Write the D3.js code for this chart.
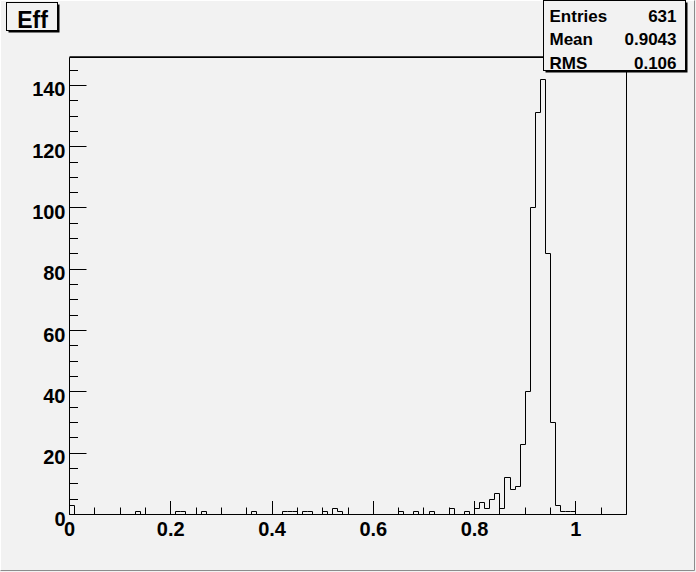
<!DOCTYPE html>
<html>
<head>
<meta charset="utf-8">
<script src="https://cdn.jsdelivr.net/npm/d3@7"></script>
<style>
  body { margin: 0; background: #f2f2f2; }
  svg text { font-family: "Liberation Sans", Arial, Helvetica, sans-serif; font-weight: bold; fill: #000; }
</style>
</head>
<body>
<div id="chart"></div>
<script>
// histogram "Eff": 110 bins from 0 to 1.1
var xLow = 0, xHigh = 1.1, nBins = 110;

var counts = [
  3, 0, 0, 0, 0, 0, 0, 0, 0, 0,
  0, 0, 0, 1, 0, 0, 0, 0, 0, 0,
  0, 1, 1, 0, 0, 0, 1, 0, 0, 0,
  0, 0, 0, 0, 0, 0, 1, 0, 0, 0,
  0, 0, 1, 1, 1, 0, 1, 1, 0, 0,
  1, 0, 2, 1, 0, 0, 0, 0, 0, 0,
  0, 0, 0, 0, 0, 1, 0, 0, 1, 0,
  0, 1, 0, 0, 0, 2, 0, 0, 1, 0,
  2, 4, 2, 5, 7, 2, 12, 8, 9, 23,
  40, 100, 131, 142, 85, 30, 3, 1, 1, 1,
  0, 0, 0, 0, 0, 0, 0, 0, 0, 0
];

var xTickLabels = ["0", "0.2", "0.4", "0.6", "0.8", "1"];
var yTickLabels = ["0", "20", "40", "60", "80", "100", "120", "140"];

var statNames = ["Entries", "Mean", "RMS"];
var statValues = ["631", "0.9043", "0.106"];
var title = "Eff";

var width = 696, height = 572;
var frame = { left: 69.5, right: 626.5, top: 57.5, bottom: 514.5 };

var svg = d3.select("#chart").append("svg")
    .attr("width", width)
    .attr("height", height);

svg.append("rect")
    .attr("width", width).attr("height", height)
    .attr("fill", "#f2f2f2");

// canvas bevel
svg.append("path")
    .attr("d", "M0.5," + (height - 1.5) + "V0.5H" + (width - 1.5))
    .attr("fill", "none").attr("stroke", "#ffffff");
svg.append("path")
    .attr("d", "M0.5," + (height - 1.5) + "H" + (width - 1.5) + "V0.5")
    .attr("fill", "none").attr("stroke", "#8c8c8c");

var yMax = d3.max(counts) * 1.05;

var x = d3.scaleLinear().domain([xLow, xHigh]).range([frame.left, frame.right]);
var y = d3.scaleLinear().domain([0, yMax]).range([frame.bottom, frame.top]);

var binW = (xHigh - xLow) / nBins;

// histogram outline as a step path
var pts = [[x(xLow), y(0)]];
counts.forEach(function(c, i) {
  var x0 = x(xLow + i * binW), x1 = x(xLow + (i + 1) * binW);
  pts.push([x0, y(c)]);
  pts.push([x1, y(c)]);
});
pts.push([x(xHigh), y(0)]);

svg.append("path")
    .attr("d", d3.line()(pts.map(function(p) { return [Math.round(p[0] - 0.5) + 0.5, Math.round(p[1] - 0.5) + 0.5]; })))
    .attr("fill", "none")
    .attr("stroke", "#000")
    .attr("stroke-width", 1);

// frame
svg.append("path")
    .attr("d", "M" + frame.left + "," + frame.bottom + "V" + frame.top + "H" + frame.right + "V" + frame.bottom + "Z")
    .attr("fill", "none").attr("stroke", "#000").attr("stroke-width", 1);
svg.append("line")
    .attr("x1", frame.left).attr("x2", frame.right)
    .attr("y1", frame.top - 0.5).attr("y2", frame.top - 0.5)
    .attr("stroke", "#000").attr("stroke-width", 1.5);

// y axis: ticks point inward
var yMajor = yTickLabels.map(Number);
var yAxis = d3.axisRight(y)
    .tickValues(d3.range(0, yMax, 5))
    .tickSize(0)
    .tickFormat("");
var yg = svg.append("g").attr("transform", "translate(" + frame.left + ",0)");
yg.call(yAxis);
yg.select(".domain").remove();
yg.selectAll(".tick line")
    .attr("x2", function(d) { return yMajor.indexOf(d) >= 0 ? 17 : 8.5; })
    .attr("stroke", "#000");
yg.selectAll(".tick").attr("transform", function(d) { return "translate(0," + (Math.round(y(d) - 0.5) + 0.5) + ")"; });

svg.selectAll(".ylab")
    .data(yTickLabels)
  .enter().append("text")
    .attr("class", "ylab")
    .attr("x", frame.left - 4)
    .attr("y", function(d) { return y(+d) + 11; })
    .attr("text-anchor", "end")
    .style("font-size", "20px")
    .text(function(d) { return d; });

// x axis: ticks point upward
var xMajor = xTickLabels.map(Number);
var xAxis = d3.axisTop(x)
    .tickValues(d3.range(0, 21).map(function(i) { return i * 0.05; }).concat([1.05]))
    .tickSize(0)
    .tickFormat("");
var xg = svg.append("g").attr("transform", "translate(0," + frame.bottom + ")");
xg.call(xAxis);
xg.select(".domain").remove();
xg.selectAll(".tick line")
    .attr("y2", function(d) {
      var major = xMajor.some(function(m) { return Math.abs(m - d) < 1e-6; });
      return major ? -13.5 : -7;
    })
    .attr("stroke", "#000");
xg.selectAll(".tick").attr("transform", function(d) { return "translate(" + (Math.round(x(d) - 0.5) + 0.5) + ",0)"; });

svg.selectAll(".xlab")
    .data(xTickLabels)
  .enter().append("text")
    .attr("class", "xlab")
    .attr("x", function(d) { return x(+d); })
    .attr("y", 536)
    .attr("text-anchor", "middle")
    .style("font-size", "20px")
    .text(function(d) { return d; });

// title box with shadow
var tb = { x: 6.5, y: 2.5, w: 51, h: 28 };
svg.append("rect")
    .attr("x", tb.x + 2).attr("y", tb.y + 2).attr("width", tb.w).attr("height", tb.h)
    .attr("fill", "#000");
svg.append("rect")
    .attr("x", tb.x).attr("y", tb.y).attr("width", tb.w).attr("height", tb.h)
    .attr("fill", "#f2f2f2").attr("stroke", "#000");
svg.append("text")
    .attr("x", tb.x + tb.w / 2 + 0.5).attr("y", 28)
    .attr("text-anchor", "middle")
    .style("font-size", "23px")
    .text(title);

// stats box
var sb = { x: 543.5, y: 0.5, w: 142, h: 70 };
svg.append("rect")
    .attr("x", sb.x + 2).attr("y", sb.y + 2).attr("width", sb.w).attr("height", sb.h)
    .attr("fill", "#000");
svg.append("rect")
    .attr("x", sb.x).attr("y", sb.y).attr("width", sb.w).attr("height", sb.h)
    .attr("fill", "#f2f2f2").attr("stroke", "#000");

var rows = svg.selectAll(".stat")
    .data(statNames)
  .enter().append("g")
    .attr("class", "stat")
    .attr("transform", function(d, i) { return "translate(0," + (21.5 + i * 23.5) + ")"; });
rows.append("text")
    .attr("x", sb.x + 6)
    .style("font-size", "17px")
    .text(function(d) { return d; });
rows.append("text")
    .attr("x", sb.x + sb.w - 9)
    .attr("text-anchor", "end")
    .style("font-size", "17px")
    .text(function(d, i) { return statValues[i]; });
</script>
</body>
</html>
